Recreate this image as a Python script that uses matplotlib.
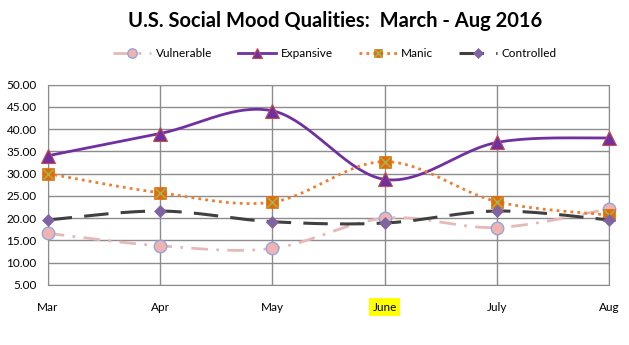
import numpy as np
import matplotlib
matplotlib.use('Agg')
import matplotlib.pyplot as plt
from matplotlib.legend_handler import HandlerTuple

plt.rcParams['font.family'] = ['Lato', 'DejaVu Sans']

months = ['Mar', 'Apr', 'May', 'June', 'July', 'Aug']
vulnerable = [16.6, 13.8, 13.2, 20.0, 17.9, 22.1]
expansive = [34.0, 39.0, 44.1, 28.7, 37.0, 38.0]
manic = [30.0, 25.7, 23.6, 32.7, 23.7, 20.7]
controlled = [19.6, 21.6, 19.2, 18.9, 21.6, 19.6]


def smooth(y, steps=40):
    # bezier smoothing like the spreadsheet "smoothed line" option
    y = np.asarray(y, float)
    x = np.arange(len(y), dtype=float)
    px = np.concatenate([[x[0]], x, [x[-1]]])
    py = np.concatenate([[y[0]], y, [y[-1]]])
    xs, ys = [], []
    t = np.linspace(0, 1, steps)
    for i in range(len(y) - 1):
        p0 = np.array([px[i + 1], py[i + 1]])
        p3 = np.array([px[i + 2], py[i + 2]])
        c1 = p0 + (np.array([px[i + 2], py[i + 2]]) - np.array([px[i], py[i]])) / 6
        c2 = p3 - (np.array([px[i + 3], py[i + 3]]) - np.array([px[i + 1], py[i + 1]])) / 6
        b = ((1 - t) ** 3)[:, None] * p0 + (3 * (1 - t) ** 2 * t)[:, None] * c1 \
            + (3 * (1 - t) * t ** 2)[:, None] * c2 + (t ** 3)[:, None] * p3
        xs.extend(b[:, 0])
        ys.extend(b[:, 1])
    return xs, ys


fig = plt.figure(figsize=(6.29, 3.45), dpi=100)
ax = fig.add_axes([0.0758, 0.174, 0.893, 0.581])

x = np.arange(len(months))

series = [
    (vulnerable, dict(color='#E6B9B8', lw=2, ls=(0, (6, 3, 1, 3))),
     dict(marker='o', ms=9, mfc='#F2B2B2', mec='#8EA9DB', mew=1)),
    (expansive, dict(color='#7030A0', lw=2, ls='-'),
     dict(marker='^', ms=10, mfc='#7030A0', mec='#C0504D', mew=0.8)),
    (manic, dict(color='#ED7D31', lw=2, ls=(0, (1, 1.5))),
     dict(marker='s', ms=8, mfc='#E36C09', mec='#E36C09', mew=0.5)),
    (controlled, dict(color='#404040', lw=2.2, ls=(0, (8, 4))),
     dict(marker='D', ms=6.5, mfc='#8064A2', mec='#8064A2', mew=0.5)),
]
names = ['Vulnerable', 'Expansive', 'Manic', 'Controlled']

handles = []
for k, (vals, lstyle, mstyle) in enumerate(series):
    sx, sy = smooth(vals)
    ax.plot(sx, sy, zorder=3 + k, clip_on=False, **lstyle)
    ax.plot(x, vals, ls='none', zorder=3 + k, clip_on=False, **mstyle)
    leg_m = dict(mstyle, ms=mstyle['ms'] * 0.75)
    if names[k] == 'Manic':
        ax.plot(x, vals, ls='none', marker='x', ms=7, mec='#9BBB59', mew=1,
                zorder=3 + k, clip_on=False)
        h = (plt.Line2D([], [], **lstyle, **leg_m),
             plt.Line2D([], [], ls='none', marker='x', ms=5.5, mec='#9BBB59', mew=1))
    else:
        h = plt.Line2D([], [], **lstyle, **leg_m)
    handles.append(h)

ax.set_xlim(0, len(months) - 1)
ax.set_ylim(5, 50)
ax.set_yticks(np.arange(5, 51, 5))
ax.set_yticklabels(['%.2f' % v for v in np.arange(5, 51, 5)])
ax.set_xticks(x)
ax.set_xticklabels(months)
ax.grid(True, color='#8C8C8C', lw=1)
for s in ax.spines.values():
    s.set_color('#8C8C8C')
ax.tick_params(length=0, labelsize=8.5, colors='black')
ax.tick_params(axis='x', pad=12)
ax.tick_params(axis='y', pad=8)
ax.get_xticklabels()[3].set_bbox(dict(facecolor='#FFFF00', edgecolor='none', pad=2.5))

fig.text(0.533, 0.94, 'U.S. Social Mood Qualities:  March - Aug 2016',
         ha='center', va='center', fontsize=14.5, fontweight='bold')
fig.legend(handles, names, loc='center', bbox_to_anchor=(0.533, 0.845), ncol=4,
           frameon=False, fontsize=8.5, handlelength=3.2, handletextpad=0.4,
           columnspacing=2.2, handler_map={tuple: HandlerTuple(ndivide=1, pad=0)})

fig.savefig('out.png', dpi=100)
